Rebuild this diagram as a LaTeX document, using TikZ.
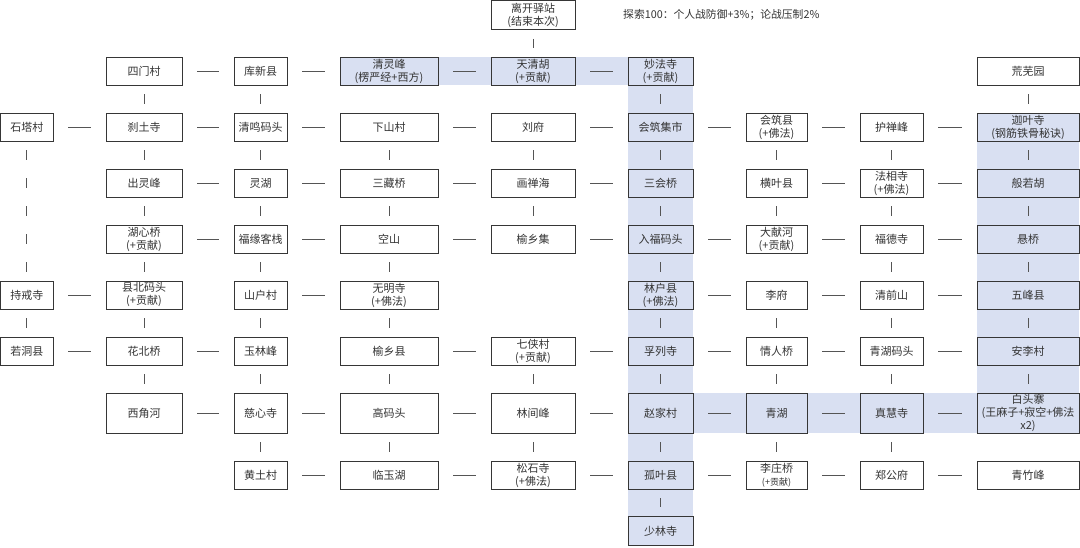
\documentclass[tikz,border=0pt]{standalone}
\usepackage{fontspec}
\newfontfamily\cjk{Noto Sans CJK SC}
\usetikzlibrary{backgrounds}
\definecolor{band}{HTML}{D9E0F2}
\definecolor{boxc}{HTML}{363636}
\definecolor{txtc}{HTML}{333333}
\definecolor{linec}{HTML}{555555}
\begin{document}
\begin{tikzpicture}[x=1pt,y=-1pt,
  box/.style={draw=boxc, line width=0.95pt, fill=white, text=txtc, inner sep=0pt, align=center,
    minimum height=28pt, font=\cjk\fontsize{11}{13}\selectfont},
  hl/.style={box, fill=band},
  tall/.style={minimum height=40pt},
  wa/.style={minimum width=52.5pt}, wb/.style={minimum width=76pt}, wc/.style={minimum width=53pt},
  wd/.style={minimum width=98pt}, we/.style={minimum width=84pt}, wf/.style={minimum width=65pt},
  wg/.style={minimum width=61pt}, wh/.style={minimum width=63pt}, wi/.style={minimum width=102pt},
  con/.style={draw=linec, line width=0.7pt},
  hc/.style={con, shorten <=15pt, shorten >=15pt},
  vc/.style={con, shorten <=9pt, shorten >=9pt}]
\useasboundingbox (0,0) rectangle (1080,547);
% row 0
\node[box,we,minimum height=29pt] (lkyz) at (533,15) {离开驿站\\(结束本次)};
\node[text=txtc, anchor=west, inner sep=0pt, font=\cjk\fontsize{10.8}{12}\selectfont] (note) at (623,15) {探索100：个人战防御+3\%；论战压制2\%};
% row 1
\node[box,wb] (smc) at (144,71) {四门村};
\node[box,wc] (kxx) at (260.5,71) {库新县};
\node[hl,wd] (qlf) at (389,71) {清灵峰\\(楞严经+西方)};
\node[hl,we] (tqh) at (533,71) {天清胡\\(+贡献)};
\node[hl,wf] (mfs) at (660.5,71) {妙法寺\\(+贡献)};
\node[box,wi] (hwy) at (1028,71) {荒芜园};
% row 2
\node[box,wa] (stc) at (26.75,127) {石塔村};
\node[box,wb] (sts) at (144,127) {刹土寺};
\node[box,wc] (qmmt) at (260.5,127) {清鸣码头};
\node[box,wd] (xsc) at (389,127) {下山村};
\node[box,we] (lf) at (533,127) {刘府};
\node[hl,wf] (hzjs) at (660.5,127) {会筑集市};
\node[box,wg] (hzx) at (776.5,127) {会筑县\\(+佛法)};
\node[box,wh] (hcf) at (891.5,127) {护禅峰};
\node[hl,wi] (jys) at (1028,127) {迦叶寺\\(钢筋铁骨秘诀)};
% row 3
\node[box,wb] (clf) at (144,183) {出灵峰};
\node[box,wc] (lh) at (260.5,183) {灵湖};
\node[box,wd] (szq) at (389,183) {三藏桥};
\node[box,we] (hch) at (533,183) {画禅海};
\node[hl,wf] (shq) at (660.5,183) {三会桥};
\node[box,wg] (hyx) at (776.5,183) {横叶县};
\node[box,wh] (fxs) at (891.5,183) {法相寺\\(+佛法)};
\node[hl,wi] (brh) at (1028,183) {般若胡};
% row 4
\node[box,wb] (hxq) at (144,239) {湖心桥\\(+贡献)};
\node[box,wc] (fykz) at (260.5,239) {福缘客栈};
\node[box,wd] (ks) at (389,239) {空山};
\node[box,we] (yxj) at (533,239) {榆乡集};
\node[hl,wf] (rfmt) at (660.5,239) {入福码头};
\node[box,wg] (dxh) at (776.5,239) {大献河\\(+贡献)};
\node[box,wh] (fds) at (891.5,239) {福德寺};
\node[hl,wi] (xq) at (1028,239) {悬桥};
% row 5
\node[box,wa] (cjs) at (26.75,295) {持戒寺};
\node[box,wb] (xbmt) at (144,295) {县北码头\\(+贡献)};
\node[box,wc] (shc) at (260.5,295) {山户村};
\node[box,wd] (wms) at (389,295) {无明寺\\(+佛法)};
\node[hl,wf] (lhx) at (660.5,295) {林户县\\(+佛法)};
\node[box,wg] (lif) at (776.5,295) {李府};
\node[box,wh] (qqs) at (891.5,295) {清前山};
\node[hl,wi] (wfx) at (1028,295) {五峰县};
% row 6
\node[box,wa] (rdx) at (26.75,351) {若洞县};
\node[box,wb] (hbq) at (144,351) {花北桥};
\node[box,wc] (ylf) at (260.5,351) {玉林峰};
\node[box,wd] (yxx) at (389,351) {榆乡县};
\node[box,we] (qxc) at (533,351) {七侠村\\(+贡献)};
\node[hl,wf] (fls) at (660.5,351) {孚列寺};
\node[box,wg] (qrq) at (776.5,351) {情人桥};
\node[box,wh] (qhmt) at (891.5,351) {青湖码头};
\node[hl,wi] (alc) at (1028,351) {安李村};
% row 7
\node[box,wb,tall] (xjh) at (144,413) {西角河};
\node[box,wc,tall] (cxs) at (260.5,413) {慈心寺};
\node[box,wd,tall] (gmt) at (389,413) {高码头};
\node[box,we,tall] (ljf) at (533,413) {林间峰};
\node[hl,wf,tall] (zjc) at (660.5,413) {赵家村};
\node[hl,wg,tall] (qh) at (776.5,413) {青湖};
\node[hl,wh,tall] (zhs) at (891.5,413) {真慧寺};
\node[hl,wi,tall] (btz) at (1028,413) {白头寨\\(王麻子+寂空+佛法\\x2)};
% row 8
\node[box,wc] (htc) at (260.5,475) {黄土村};
\node[box,wd] (lyh) at (389,475) {临玉湖};
\node[box,we] (sss) at (533,475) {松石寺\\(+佛法)};
\node[hl,wf] (gyx) at (660.5,475) {孤叶县};
\node[box,wg] (lzq) at (776.5,475) {李庄桥\\{\fontsize{9}{11}\selectfont(+贡献)}};
\node[box,wh] (zgf) at (891.5,475) {郑公府};
\node[box,wi] (qzf) at (1028,475) {青竹峰};
% row 9
\node[hl,wf,minimum height=29pt] (sls) at (660.5,531) {少林寺};
% highlight bands
\begin{scope}[on background layer]
\fill[band] (qlf.north west) rectangle (mfs.south east);
\fill[band] (mfs.north west) rectangle (sls.south east);
\fill[band] (zjc.north west) rectangle (btz.south east);
\fill[band] (jys.north west) rectangle (btz.south east);
\end{scope}
% horizontal connectors
\foreach \a/\b in {smc/kxx,kxx/qlf,qlf/tqh,tqh/mfs,
  stc/sts,sts/qmmt,qmmt/xsc,xsc/lf,lf/hzjs,hzjs/hzx,hzx/hcf,hcf/jys,
  clf/lh,lh/szq,szq/hch,hch/shq,hyx/fxs,fxs/brh,
  hxq/fykz,fykz/ks,ks/yxj,yxj/rfmt,rfmt/dxh,dxh/fds,fds/xq,
  cjs/xbmt,shc/wms,lhx/lif,lif/qqs,qqs/wfx,
  rdx/hbq,hbq/ylf,yxx/qxc,qxc/fls,fls/qrq,qrq/qhmt,qhmt/alc,
  xjh/cxs,cxs/gmt,gmt/ljf,ljf/zjc,zjc/qh,qh/zhs,zhs/btz,
  htc/lyh,lyh/sss,sss/gyx,gyx/lzq,lzq/zgf,zgf/qzf}
  \draw[hc] (\a.east) -- (\b.west);
% vertical connectors
\foreach \a/\b in {lkyz/tqh,
  smc/sts,kxx/qmmt,mfs/hzjs,hwy/jys,
  sts/clf,qmmt/lh,xsc/szq,lf/hch,hzjs/shq,hzx/hyx,hcf/fxs,jys/brh,
  clf/hxq,lh/fykz,szq/ks,hch/yxj,shq/rfmt,hyx/dxh,fxs/fds,brh/xq,
  hxq/xbmt,fykz/shc,ks/wms,rfmt/lhx,fds/qqs,xq/wfx,
  cjs/rdx,xbmt/hbq,shc/ylf,wms/yxx,lhx/fls,lif/qrq,qqs/qhmt,wfx/alc,
  hbq/xjh,ylf/cxs,yxx/gmt,qxc/ljf,fls/zjc,qrq/qh,qhmt/zhs,alc/btz,
  cxs/htc,gmt/lyh,ljf/sss,zjc/gyx,qh/lzq,zhs/zgf,
  gyx/sls}
  \draw[vc] (\a.south) -- (\b.north);
\draw[vc, dash pattern=on 10pt off 18pt] (stc.south) -- (cjs.north);
\end{tikzpicture}
\end{document}
